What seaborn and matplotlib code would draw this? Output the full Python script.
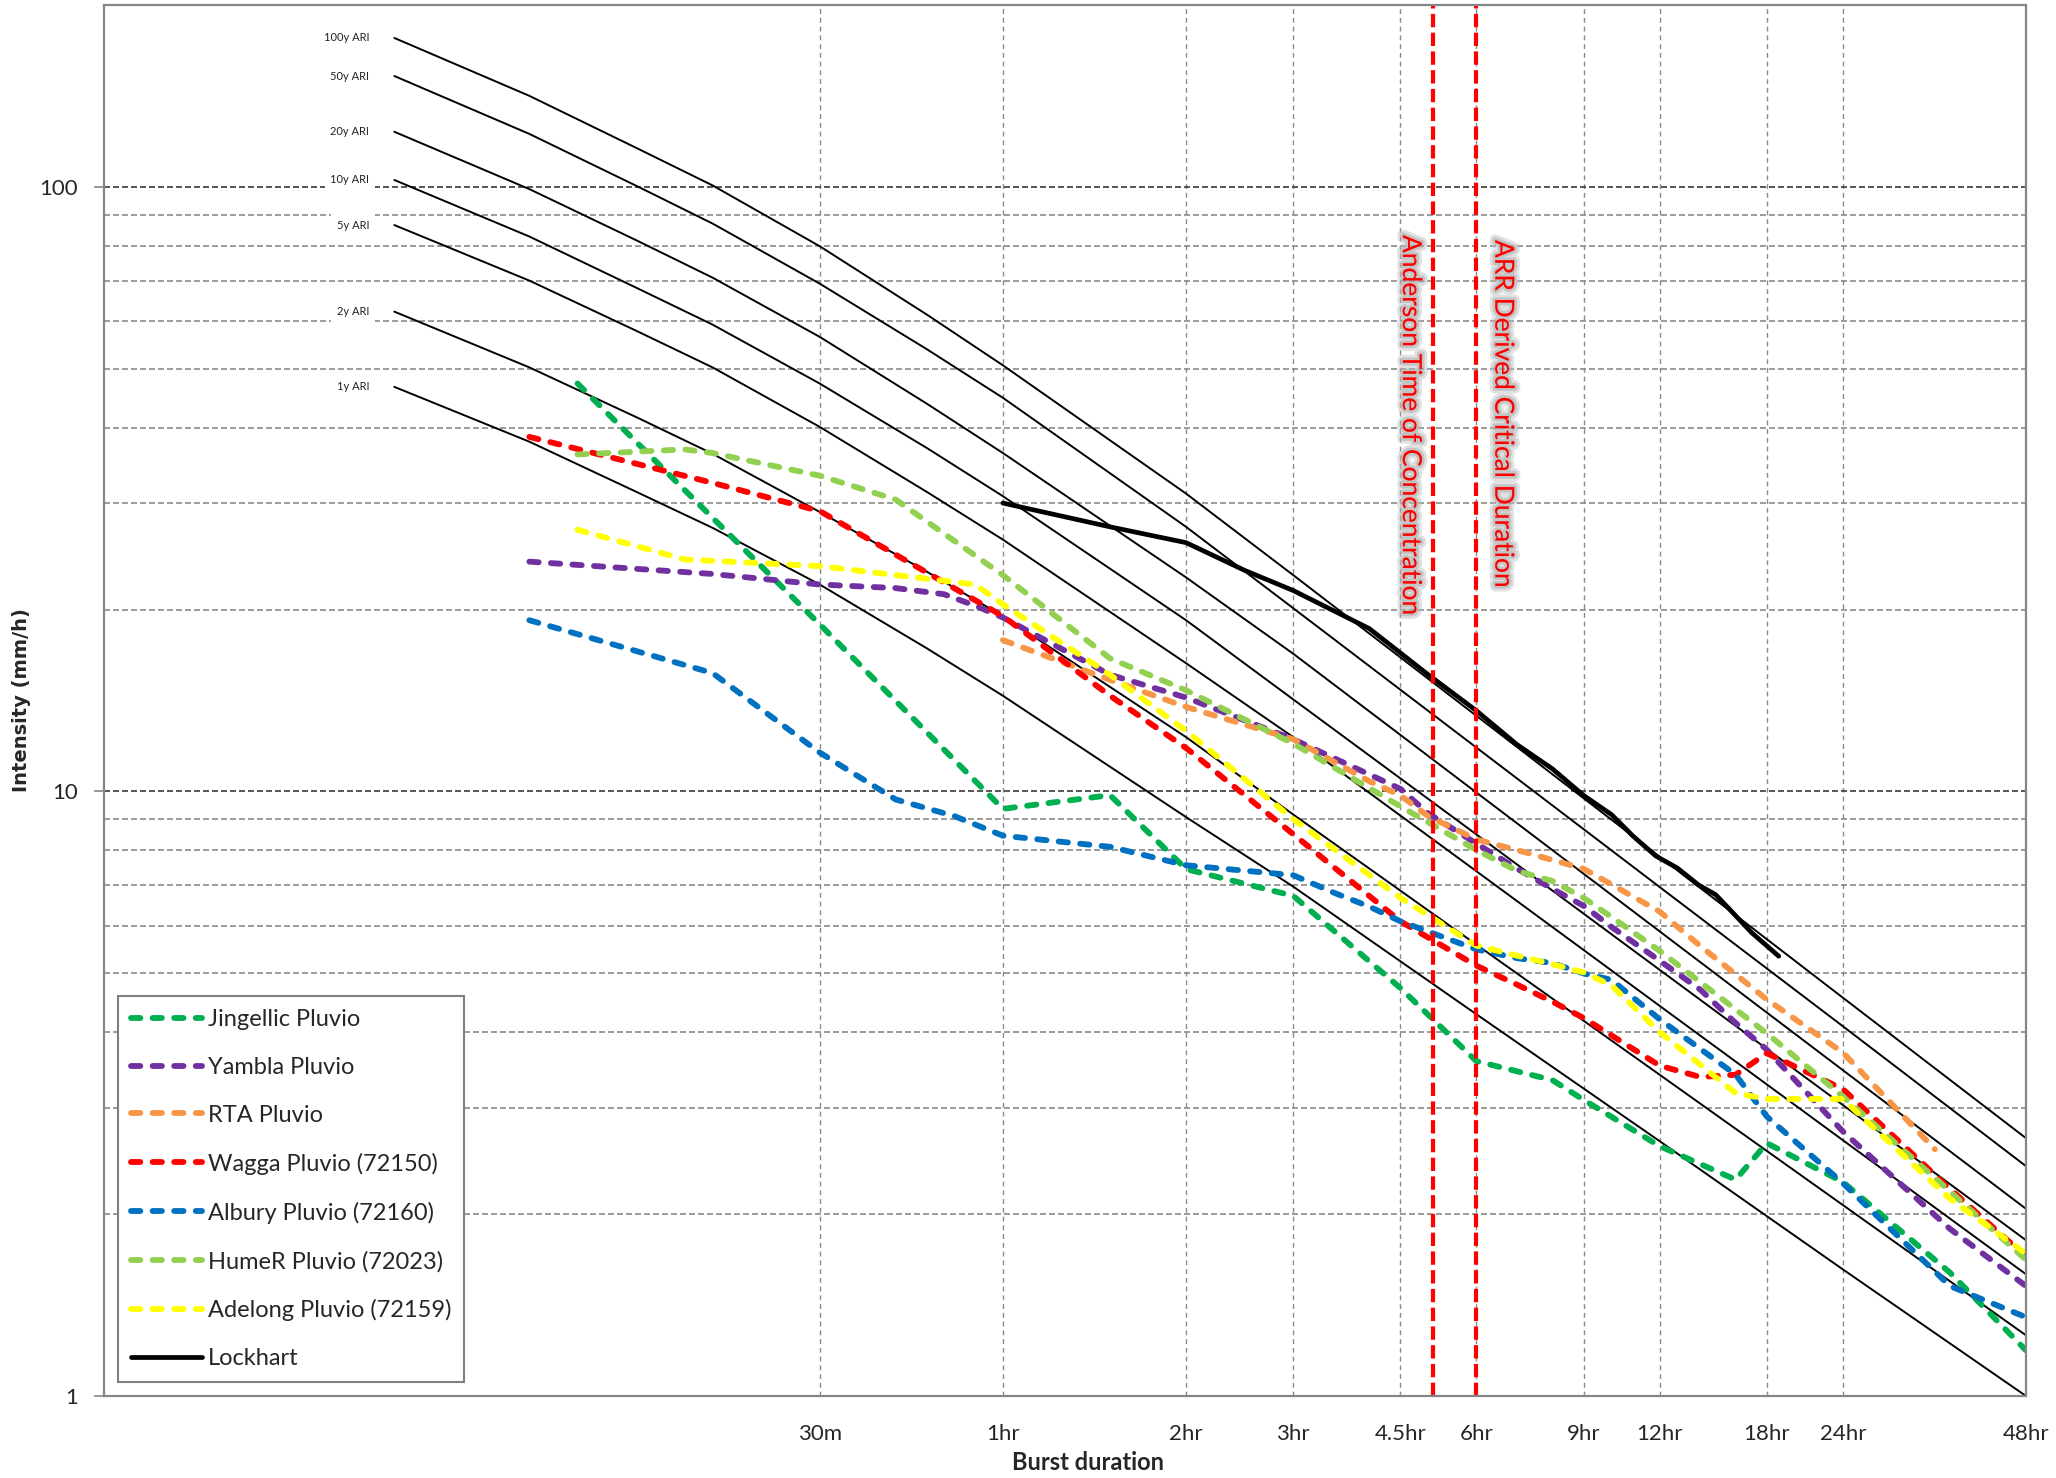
import matplotlib
matplotlib.use("Agg")
import matplotlib.pyplot as plt
import matplotlib.patheffects as pe
from matplotlib.lines import Line2D
from matplotlib.ticker import FixedLocator, NullFormatter, NullLocator
import seaborn as sns

# ---------------- data (durations in minutes, intensity in mm/h) ----------------
ari_durations = [6, 10, 15, 20, 30, 45, 60, 120, 180, 360, 720, 1440, 2880]
ari_labels = ["100y ARI", "50y ARI", "20y ARI", "10y ARI", "5y ARI", "2y ARI", "1y ARI"]
ari_100y = [176.4, 141.5, 116.0, 100.6, 79.8, 61.5, 50.7, 31.1, 22.8, 13.34, 7.80, 4.56, 2.67]
ari_50y = [152.6, 122.4, 100.4, 87.0, 69.2, 53.9, 44.8, 27.4, 20.1, 11.82, 6.95, 4.09, 2.40]
ari_20y = [123.4, 99.2, 81.6, 70.8, 56.5, 43.8, 36.3, 22.6, 16.9, 9.96, 5.87, 3.46, 2.04]
ari_10y = [102.7, 82.8, 68.1, 59.2, 47.3, 37.0, 30.8, 19.2, 14.2, 8.49, 5.07, 3.03, 1.81]
ari_5y = [86.5, 70.0, 57.8, 50.3, 40.1, 31.3, 26.1, 16.3, 12.3, 7.38, 4.42, 2.65, 1.59]
ari_2y = [62.2, 50.3, 41.6, 36.2, 29.0, 23.1, 19.5, 12.3, 9.16, 5.58, 3.40, 2.07, 1.26]
ari_1y = [46.7, 37.9, 31.3, 27.3, 22.0, 17.25, 14.4, 9.07, 6.96, 4.28, 2.64, 1.62, 1.00]

jing_dur = [12, 30, 60, 90, 120, 180, 270, 360, 480, 540, 720, 960, 1080, 1440, 2160, 2880]
jing_val = [47.3, 18.9, 9.36, 9.86, 7.44, 6.72, 4.73, 3.58, 3.33, 3.09, 2.59, 2.28, 2.62, 2.26, 1.60, 1.19]

yam_dur = [10, 20, 30, 40, 48, 54, 60, 90, 120, 180, 270, 300, 360, 420, 480, 540, 600, 720, 840, 960, 1080, 1440, 2160, 2880]
yam_val = [24.0, 22.9, 22.0, 21.7, 21.2, 20.3, 19.4, 15.6, 14.3, 12.2, 10.1, 9.2, 8.2, 7.45, 6.9, 6.47, 5.97, 5.25, 4.70, 4.14, 3.74, 2.74, 1.89, 1.52]

rta_dur = [60, 90, 120, 180, 240, 270, 300, 360, 420, 540, 720, 840, 1080, 1440, 2040]
rta_val = [17.8, 15.3, 13.8, 12.2, 10.4, 9.85, 9.1, 8.33, 8.0, 7.45, 6.33, 5.55, 4.53, 3.70, 2.56]

wag_dur = [10, 20, 30, 60, 90, 120, 180, 270, 360, 420, 480, 540, 600, 720, 840, 960, 1080, 1440, 2160, 2880]
wag_val = [38.6, 32.4, 29.1, 19.5, 14.4, 11.8, 8.5, 6.1, 5.15, 4.79, 4.49, 4.22, 3.95, 3.52, 3.37, 3.40, 3.69, 3.22, 2.20, 1.70]

alb_dur = [10, 20, 30, 40, 50, 60, 90, 120, 180, 210, 240, 270, 360, 420, 480, 540, 600, 720, 960, 1080, 1440, 2160, 2880]
alb_val = [19.2, 15.7, 11.6, 9.7, 9.1, 8.45, 8.1, 7.55, 7.27, 6.80, 6.45, 6.1, 5.48, 5.3, 5.2, 5.0, 4.88, 4.2, 3.4, 2.9, 2.25, 1.52, 1.35]

hum_dur = [12, 18, 20, 30, 40, 60, 90, 120, 180, 270, 360, 420, 480, 540, 600, 720, 1080, 1440, 2160, 2880]
hum_val = [36.1, 36.8, 36.3, 33.3, 30.4, 22.8, 16.6, 14.7, 12.0, 9.45, 8.0, 7.39, 7.11, 6.67, 6.2, 5.45, 3.98, 3.13, 2.18, 1.68]

ade_dur = [12, 18, 30, 54, 60, 90, 120, 180, 270, 360, 420, 480, 540, 600, 720, 960, 1080, 1440, 2160, 2880]
ade_val = [27.1, 24.2, 23.6, 22.0, 20.4, 15.6, 12.6, 9.0, 6.67, 5.56, 5.35, 5.18, 5.02, 4.78, 4.0, 3.17, 3.10, 3.10, 2.12, 1.72]

lock_dur = [60, 90, 120, 150, 180, 240, 300, 360, 420, 480, 540, 600, 650, 710, 770, 835, 890, 950, 1020, 1130]
lock_val = [30.0, 27.4, 25.8, 23.2, 21.5, 18.6, 15.6, 13.6, 11.95, 10.9, 9.85, 9.16, 8.45, 7.82, 7.47, 7.0, 6.75, 6.3, 5.84, 5.34]

series_names = ["Jingellic Pluvio", "Yambla Pluvio", "RTA Pluvio", "Wagga Pluvio (72150)",
                "Albury Pluvio (72160)", "HumeR Pluvio (72023)", "Adelong Pluvio (72159)"]
series_colors = ["#00B050", "#7030A0", "#F79646", "#FF0000", "#0070C0", "#92D050", "#FFFF00"]

tick_minutes = [30, 60, 120, 180, 270, 360, 540, 720, 1080, 1440, 2880]
tick_labels = ["30m", "1hr", "2hr", "3hr", "4.5hr", "6hr", "9hr", "12hr", "18hr", "24hr", "48hr"]

anderson_tc = 305     # minutes
arr_critical = 360    # minutes

# ---------------- figure ----------------
sns.set_theme(style="white")
plt.rcParams['font.family'] = ['Lato', 'DejaVu Sans']

W, H = 2056, 1478
fig = plt.figure(figsize=(W / 100, H / 100), dpi=100)
fig.patch.set_facecolor("white")
L, R, B, T = 104, 2026, 1396, 5
ax = fig.add_axes([L / W, 1 - B / H, (R - L) / W, (B - T) / H])
ax.set_xscale("log")
ax.set_yscale("log")
ax.set_xlim(2, 2880)
ax.set_ylim(1, 200)

# ARI curves
ari_sets = [ari_100y, ari_50y, ari_20y, ari_10y, ari_5y, ari_2y, ari_1y]
for lbl, vals in zip(ari_labels, ari_sets):
    sns.lineplot(x=ari_durations, y=vals, ax=ax, color="black", linewidth=1.4,
                 estimator=None, legend=False, zorder=2)
    ax.annotate(lbl, xy=(ari_durations[0], vals[0]), xytext=(-18, 0),
                textcoords="offset points", ha="right", va="center", fontsize=8,
                color="#222222",
                bbox=dict(boxstyle="square,pad=0.5", fc="white", ec="none"), zorder=2.5)

# Pluvio series
series_data = [(jing_dur, jing_val), (yam_dur, yam_val), (rta_dur, rta_val), (wag_dur, wag_val),
               (alb_dur, alb_val), (hum_dur, hum_val), (ade_dur, ade_val)]
DASH = (1.6, 2.1)
LW = 4.2
handles = []
for name, col, (d, v) in zip(series_names, series_colors, series_data):
    sns.lineplot(x=d, y=v, ax=ax, color=col, linewidth=LW, estimator=None,
                 legend=False, zorder=3)
    ln = ax.lines[-1]
    ln.set_dashes(DASH)
    ln.set_dash_capstyle("round")
    h = Line2D([], [], color=col, linewidth=LW, dashes=DASH, dash_capstyle="round")
    handles.append(h)

sns.lineplot(x=lock_dur, y=lock_val, ax=ax, color="black", linewidth=3.4,
             estimator=None, legend=False, zorder=4)
ax.lines[-1].set_solid_capstyle("round")
handles.append(Line2D([], [], color="black", linewidth=3.4, solid_capstyle="round"))
labels = series_names + ["Lockhart"]

# critical duration markers
for xv in (anderson_tc, arr_critical):
    ax.axvline(xv, color="red", linewidth=3.0, linestyle=(0, (3.2, 1.3)), zorder=5)

glow = [pe.Stroke(linewidth=8, foreground="#bdbdbd", alpha=0.45),
        pe.Stroke(linewidth=4, foreground="#a8a8a8", alpha=0.5), pe.Normal()]
ax.annotate("Anderson Time of Concentration", xy=(anderson_tc, 0.8347),
            xycoords=("data", "axes fraction"), xytext=(-16, 0), textcoords="offset points",
            rotation=-90, ha="center", va="top", color="red", fontsize=19,
            path_effects=glow, zorder=6)
ax.annotate("ARR Derived Critical Duration", xy=(arr_critical, 0.8311),
            xycoords=("data", "axes fraction"), xytext=(19, 0), textcoords="offset points",
            rotation=-90, ha="center", va="top", color="red", fontsize=19,
            path_effects=glow, zorder=6)

# axes, ticks, grid
ax.xaxis.set_major_locator(FixedLocator(tick_minutes))
ax.set_xticklabels(tick_labels)
ax.xaxis.set_minor_locator(NullLocator())
ax.yaxis.set_major_locator(FixedLocator([1, 10, 100]))
ax.set_yticklabels(["1", "10", "100"])
minor_y = [m * 10 ** k for k in (0, 1) for m in range(2, 10)]
ax.yaxis.set_minor_locator(FixedLocator(minor_y))
ax.yaxis.set_minor_formatter(NullFormatter())

ax.grid(False)
ax.yaxis.grid(True, which="major", color="#3a3a3a", linestyle=(0, (3.6, 1.8)), linewidth=1.2, zorder=0)
ax.yaxis.grid(True, which="minor", color="#8a8a8a", linestyle=(0, (3.6, 1.8)), linewidth=1.2, zorder=0)
ax.xaxis.grid(True, which="major", color="#8a8a8a", linestyle=(0, (3.5, 2.8)), linewidth=1.0, zorder=0)
ax.set_axisbelow(True)

ax.tick_params(axis="y", which="major", direction="out", length=7, width=1.2,
               color="#868686", labelsize=16, pad=12, left=True)
ax.tick_params(axis="y", which="minor", length=0)
ax.tick_params(axis="x", which="major", length=0, labelsize=16, pad=20)
for s in ax.spines.values():
    s.set_color("#868686")
    s.set_linewidth(1.6)
    s.set_zorder(7)

ax.set_xlabel("Burst duration", fontsize=17, fontweight="bold")
ax.xaxis.set_label_coords(0.512, -0.048)
ax.xaxis.label.set_va("center")
ax.set_ylabel("Intensity (mm/h)", fontsize=14, fontweight="bold", family="DejaVu Sans")
ax.yaxis.set_label_coords(-0.0427, 0.5)
ax.yaxis.label.set_va("center")

leg = ax.legend(handles, labels, loc="lower left", bbox_to_anchor=(0.0073, 0.010),
                borderaxespad=0, fontsize=17, labelspacing=1.14, handlelength=3.0,
                handletextpad=0.25, borderpad=0.55, fancybox=False, framealpha=1,
                edgecolor="#7f7f7f")
leg.get_frame().set_linewidth(1.5)
leg.set_zorder(8)

fig.savefig("out.png", dpi=100, facecolor="white")
